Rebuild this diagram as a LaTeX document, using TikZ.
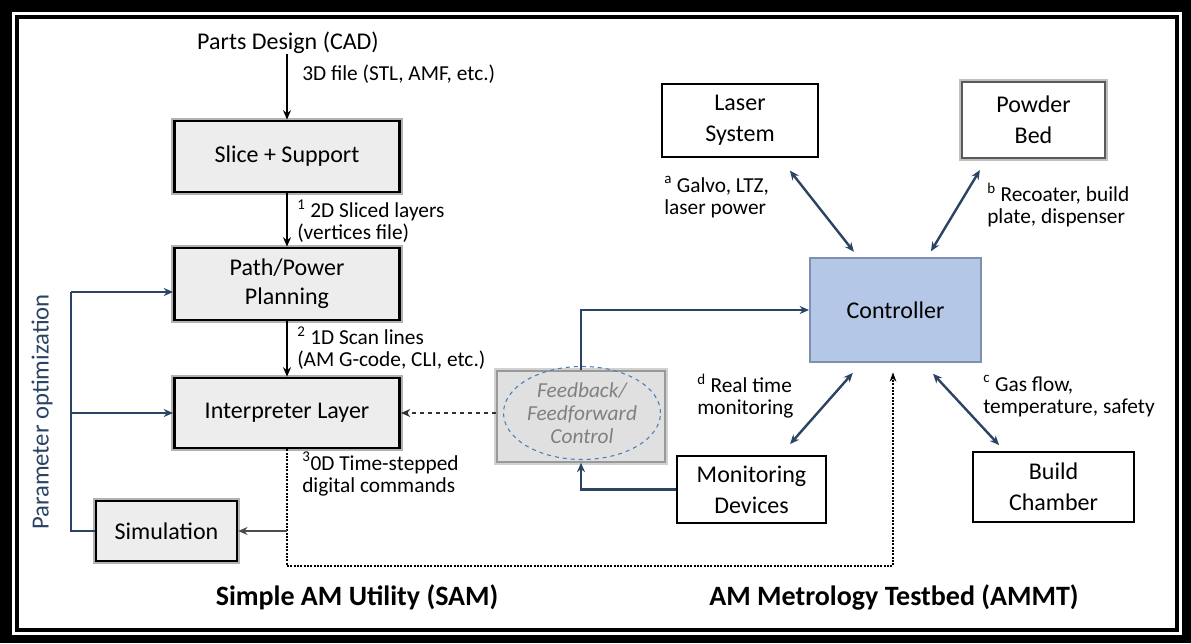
\documentclass[tikz,border=0pt]{standalone}
\usepackage{fontspec}
\setmainfont{Carlito}
\usetikzlibrary{arrows.meta,shapes.geometric,calc}
\definecolor{loopc}{HTML}{2B4463}
\definecolor{ctrlfill}{HTML}{B4C7E7}
\definecolor{ctrldraw}{HTML}{7D90AD}
\definecolor{ellc}{HTML}{4A7EBB}
\begin{document}
\begin{tikzpicture}[x=0.75pt,y=-0.75pt,
  gbox/.style={draw=black, line width=2.2pt, fill=black!7, align=center, inner sep=0pt,
    font=\fontsize{18}{22}\selectfont, preaction={draw=black!30, line width=5pt}},
  wbox/.style={draw=black, line width=1.6pt, fill=white, align=center, inner sep=0pt,
    font=\fontsize{18}{23}\selectfont},
  lbl/.style={anchor=west, align=left, inner sep=0pt, font=\fontsize{16}{16.5}\selectfont},
  tip/.style={-{Stealth[length=7pt,width=6pt]}},
  flow/.style={draw=black, line width=1.5pt, tip},
  loopln/.style={draw=loopc, line width=1.8pt},
  looparr/.style={loopln, tip},
  dblarr/.style={draw=loopc, line width=1.8pt, {Stealth[length=7pt,width=6pt]}-{Stealth[length=7pt,width=6pt]}},
  title/.style={font=\fontsize{21}{25}\selectfont\bfseries, inner sep=0pt},
]
\useasboundingbox (0,0) rectangle (1191,643);
% frame
\fill[black] (0,0) rectangle (1191,643);
\fill[white] (12,12) rectangle (1182,635);
\draw[black, line width=3pt] (17,17) rectangle (1177,630);

% left column
\node[inner sep=0pt, font=\fontsize{18}{22}\selectfont] (parts) at (288,43) {Parts Design (CAD)};
\node[gbox, minimum width={225*0.75pt}, minimum height={71*0.75pt}] (slice) at (287,156.5) {Slice + Support};
\node[gbox, minimum width={225*0.75pt}, minimum height={72*0.75pt}] (path) at (287,284) {Path/Power\\Planning};
\node[gbox, minimum width={225*0.75pt}, minimum height={70*0.75pt}] (interp) at (287,413) {Interpreter Layer};
\node[gbox, line width=1.8pt, minimum width={141*0.75pt}, minimum height={60*0.75pt}] (sim) at (166.5,531) {Simulation};

% feedback box
\node[draw=black!40, line width=1.2pt, fill=black!12, preaction={draw=black!18, line width=5pt},
  minimum width={168*0.75pt}, minimum height={91*0.75pt}] (fb) at (581,416.5) {};
\node[ellipse, draw=ellc, dashed, line width=0.8pt, minimum width={157*0.75pt}, minimum height={93*0.75pt},
  inner sep=0pt, align=center, text=black!50, font=\fontsize{16}{17}\selectfont\itshape] (ell) at (582,413) {Feedback/\\Feedforward\\Control};

% right side
\node[draw=ctrldraw, line width=1.5pt, fill=ctrlfill, minimum width={171*0.75pt}, minimum height={104*0.75pt},
  font=\fontsize{18}{22}\selectfont] (ctrl) at (895.5,310) {Controller};
\node[wbox, minimum width={156*0.75pt}, minimum height={73*0.75pt}] (laser) at (740,120.5) {Laser\\System};
\node[wbox, draw=black!65, preaction={draw=black!25, line width=4.5pt}, minimum width={143*0.75pt}, minimum height={76*0.75pt}] (powder) at (1033.5,120) {Powder\\Bed};
\node[wbox, minimum width={149*0.75pt}, minimum height={67*0.75pt}] (mon) at (751.5,489.5) {Monitoring\\Devices};
\node[wbox, minimum width={161*0.75pt}, minimum height={70*0.75pt}] (build) at (1053.5,487) {Build\\Chamber};

% main flow
\draw[flow] (parts.south -| slice.north) -- (slice.north);
\draw[flow] (slice.south) -- (path.north);
\draw[flow] (path.south) -- (interp.north);

% labels
\node[lbl] (l3d) at (302,74) {3D file (STL, AMF, etc.)};
\node[lbl] (l2d) at (297,221) {\textsuperscript{1} 2D Sliced layers\\(vertices file)};
\node[lbl] (l1d) at (297,348) {\textsuperscript{2} 1D Scan lines\\(AM G-code, CLI, etc.)};
\node[lbl] (l0d) at (302,474) {\textsuperscript{3}0D Time-stepped\\digital commands};
\node[lbl] (la) at (664,197) {\textsuperscript{a} Galvo, LTZ,\\laser power};
\node[lbl] (lb) at (987,205) {\textsuperscript{b} Recoater, build\\plate, dispenser};
\node[lbl] (ld) at (697,396) {\textsuperscript{d} Real time\\monitoring};
\node[lbl] (lc) at (983,396) {\textsuperscript{c} Gas flow,\\temperature, safety};

% dotted command path
\coordinate (dr) at (893,566);
\draw[black, line width=1.5pt, densely dotted, -{Stealth[length=7pt,width=5pt]}, shorten >=7pt]
  (interp.south) |- (dr) -- (dr |- ctrl.south);
\draw[draw=black!70, line width=1.5pt, tip] (interp.south |- sim.east) -- (sim.east);

% feedback connections
\draw[black!80, line width=1.3pt, dashed, tip] (fb.west |- interp.east) -- (interp.east);
\draw[looparr] (fb.north) |- (ctrl.west);
\draw[looparr] (mon.west) -| (fb.south);

% parameter optimization loop
\coordinate (lt) at (71,292);
\draw[loopln] (sim.west) -| (lt);
\draw[looparr] (lt) -- (lt -| path.west);
\draw[looparr] (lt |- interp.west) -- (interp.west);
\node[rotate=90, inner sep=0pt, text=loopc, font=\fontsize{18.5}{20}\selectfont] (po) at (42,412) {Parameter optimization};

% controller links
\draw[dblarr, shorten <=12pt, shorten >=5pt] ($(laser.south)+(40,0)$) -- ($(ctrl.north)+(-37.5,0)$);
\draw[dblarr, shorten <=9.6pt, shorten >=5pt] ($(powder.south)+(-47,0)$) -- ($(ctrl.north)+(32,0)$);
\draw[dblarr, shorten <=9.9pt, shorten >=10.9pt] ($(ctrl.south)+(-34,0)$) -- ($(mon.north)+(29,0)$);
\draw[dblarr, shorten <=11pt, shorten >=6pt] ($(ctrl.south)+(27.5,0)$) -- ($(build.north)+(-49,0)$);

% titles
\node[title] (sam) at (357,597) {Simple AM Utility (SAM)};
\node[title] (ammt) at (894,597) {AM Metrology Testbed (AMMT)};
\end{tikzpicture}
\end{document}
